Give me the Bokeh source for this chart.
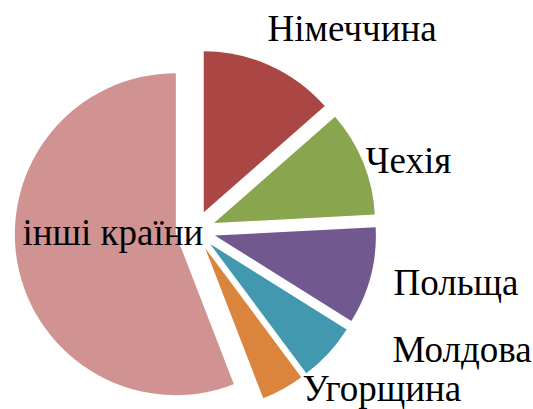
import math
from bokeh.plotting import figure
from bokeh.models import Range1d, ColumnDataSource
from bokeh.core.properties import value
from bokeh.embed import file_html
from bokeh.resources import INLINE

# data
countries = ["Німеччина", "Чехія", "Польща", "Молдова", "Угорщина", "інші країни"]
shares = [13.5, 10.6, 9.7, 5.9, 4.3, 55.7]
colors = ["#AA4643", "#89A54E", "#71588F", "#4198AF", "#DB843D", "#D19392"]

# layout (pixels)
W, H = 533, 409
cx, cy = 195, H - 230
R = 161
explode = 20
dy = 13
label_pos = [(267, H - 41 + dy), (365, H - 173 + dy), (393, H - 295 + dy),
             (392, H - 362 + dy), (302, H - 401 + dy), (22, H - 245 + dy)]

p = figure(width=W, height=H, output_backend="svg", toolbar_location=None,
           x_range=Range1d(0, W), y_range=Range1d(0, H), min_border=0)
p.axis.visible = False
p.grid.visible = False
p.outline_line_color = None
p.background_fill_color = "white"

total = sum(shares)
xs, ys, starts, ends = [], [], [], []
a = math.pi / 2
for s in shares:
    span = 2 * math.pi * s / total
    a_end = a
    a_start = a - span
    mid = (a_start + a_end) / 2
    xs.append(cx + explode * math.cos(mid))
    ys.append(cy + explode * math.sin(mid))
    starts.append(a_start)
    ends.append(a_end)
    a = a_start

src = ColumnDataSource(dict(x=xs, y=ys, start=starts, end=ends, color=colors))
p.wedge(x="x", y="y", radius=R, start_angle="start", end_angle="end",
        direction="anticlock", fill_color="color", line_color=None, source=src)

lsrc = ColumnDataSource(dict(x=[q[0] for q in label_pos], y=[q[1] for q in label_pos], text=countries))
p.text(x="x", y="y", text="text", source=lsrc, text_font=value("Liberation Serif"),
       text_font_size="37px", text_align="left", text_baseline="alphabetic", text_color="black")

open("out.html", "w").write(file_html(p, INLINE))
